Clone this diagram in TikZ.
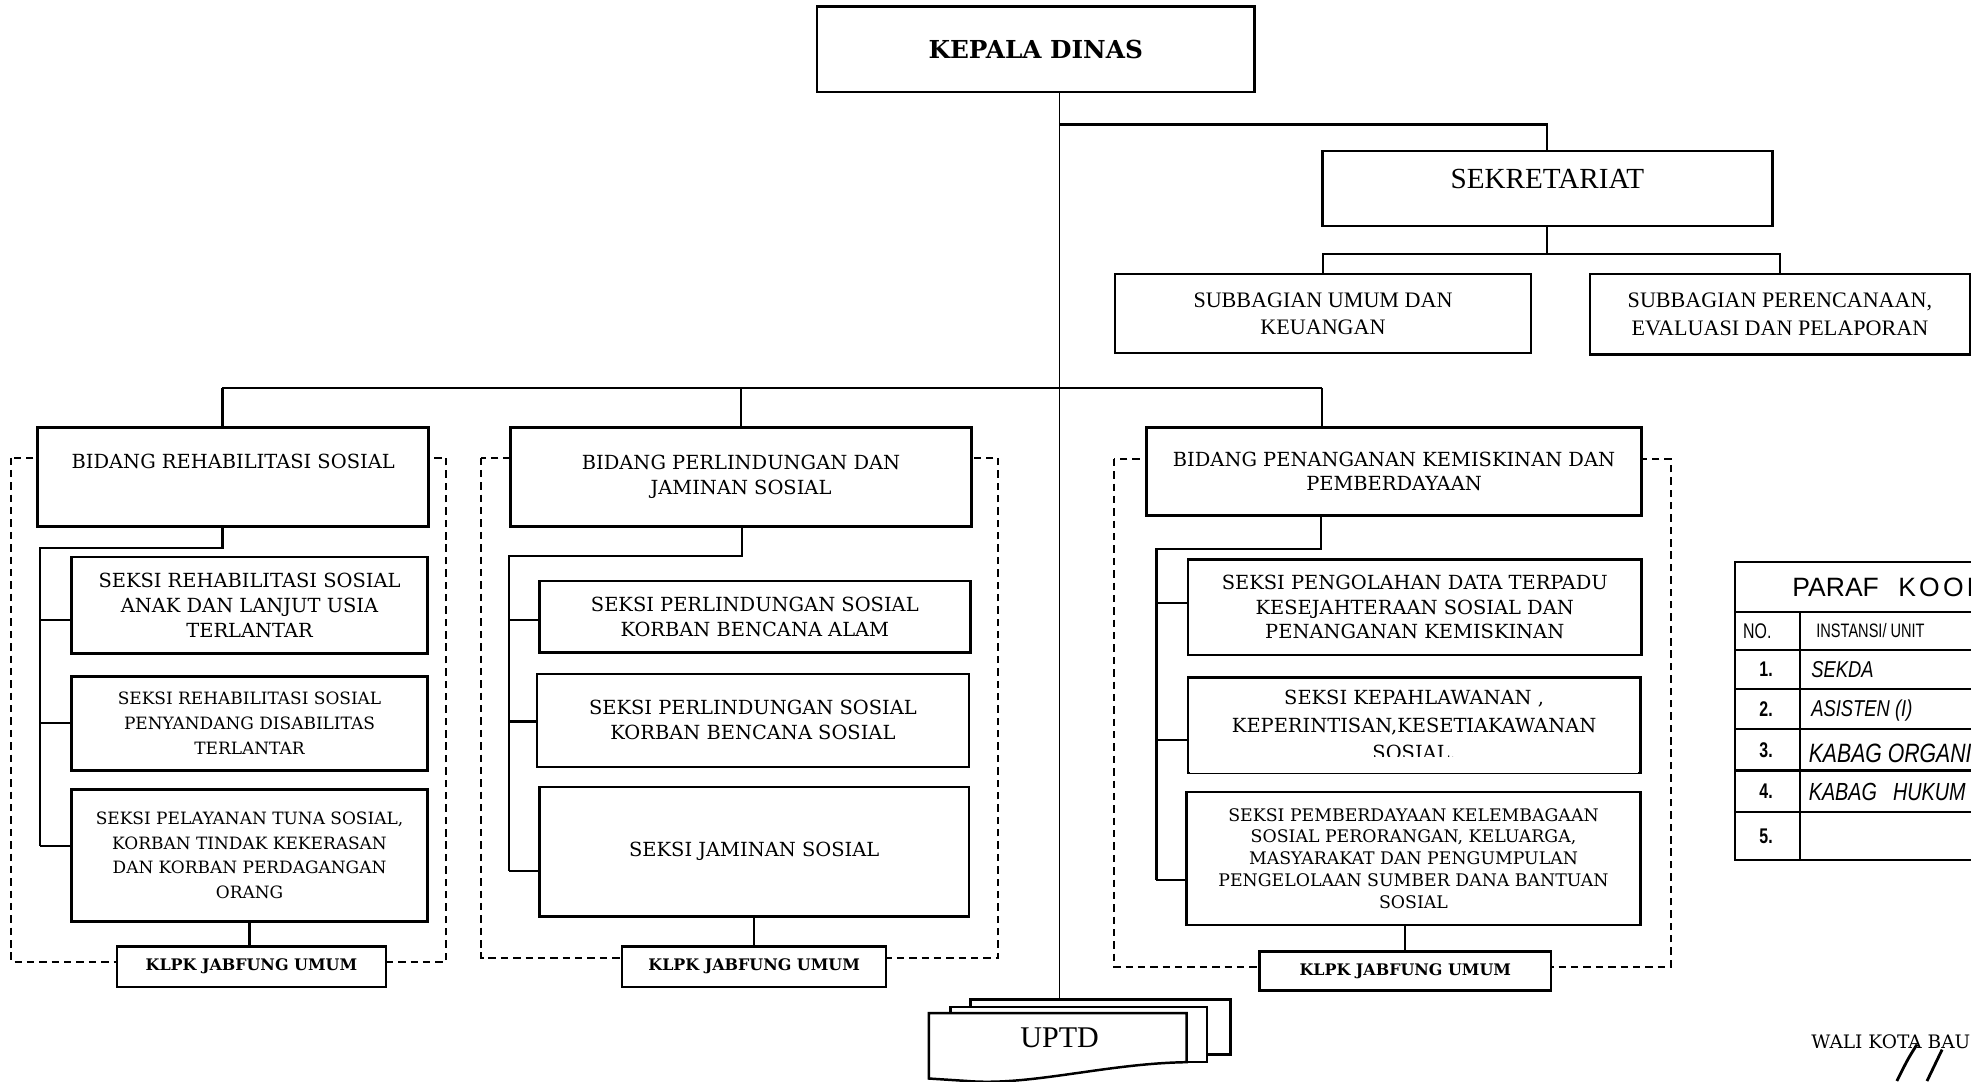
\documentclass[tikz,border=0pt]{standalone}
\usepackage{fontspec}
\setmainfont{DejaVu Serif}
\newfontfamily\timesfont{Liberation Serif}
\newfontfamily\headfont{Liberation Sans}
\newfontfamily\narrowfont[FakeStretch=0.75]{Liberation Sans}
\newfontfamily\handfont[FakeStretch=0.8]{Liberation Sans}
\usetikzlibrary{calc}

\begin{document}
\begin{tikzpicture}[x=0.025cm, y=-0.025cm,
        box/.style={draw, line width=1.4pt, fill=white, align=center, inner sep=1pt},
        wh/.style 2 args={minimum width=#1*0.025cm, minimum height=#2*0.025cm},
        link/.style={line width=1.2pt},
        trunk/.style={line width=0.8pt},
        frame/.style={line width=1.1pt, dash pattern=on 4.2pt off 2.8pt},
        txt/.style={font=\fontsize{11}{14}\selectfont},
        small/.style={font=\fontsize{9.6}{14}\selectfont},
        tight/.style={font=\fontsize{9.8}{12.4}\selectfont},
        klpk/.style={font=\fontsize{9}{11}\selectfont\bfseries},
        sub/.style={font=\timesfont\fontsize{12.5}{15.6}\selectfont},
        grid/.style={line width=1.2pt},
        hand/.style={font=\handfont\itshape\fontsize{13}{14}\selectfont, anchor=west}]
    \useasboundingbox (0,0) rectangle (1568,860);
    \clip (0,0) rectangle (1568,860);

    % Top: head of office and secretariat
    \node[box, wh={348}{68}, font=\fontsize{14}{16}\selectfont\bfseries] (kd) at (824,39) {KEPALA DINAS};
    \node[box, wh={358}{60}, font=\timesfont\fontsize{16.5}{18}\selectfont,
          text height=11pt, text depth=11pt] (sek) at (1231,150) {SEKRETARIAT};
    \node[box, sub, wh={331}{63}] (sub1) at (1052.5,249.5) {SUBBAGIAN UMUM DAN\\KEUANGAN};
    \node[box, sub, wh={302}{64}] (sub2) at (1416,250) {SUBBAGIAN PERENCANAAN,\\EVALUASI DAN PELAPORAN};

    % Dashed frames round each bidang
    \draw[frame] (9,364) rectangle (355,765);
    \draw[frame] (383,364) rectangle (794,762);
    \draw[frame] (886,365) rectangle (1329,769);

    % Bidang boxes
    \node[box, txt, wh={311}{79}] (br) at (185.5,379.5) {BIDANG REHABILITASI SOSIAL\\\strut};
    \node[box, txt, wh={367}{79}] (bp) at (589.5,379.5) {BIDANG PERLINDUNGAN DAN\\JAMINAN SOSIAL};
    \node[box, txt, wh={394}{70}] (bk) at (1109,375) {BIDANG PENANGANAN KEMISKINAN DAN\\PEMBERDAYAAN};

    % Column 1: rehabilitasi sosial
    \node[box, txt, wh={283}{77}] (r1) at (198.5,481.5) {SEKSI REHABILITASI SOSIAL\\ANAK DAN LANJUT USIA\\TERLANTAR};
    \node[box, small, wh={283}{75}] (r2) at (198.5,575.5) {SEKSI REHABILITASI SOSIAL\\PENYANDANG DISABILITAS\\TERLANTAR};
    \node[box, small, wh={283}{105}] (r3) at (198.5,680.5) {SEKSI PELAYANAN TUNA SOSIAL,\\KORBAN TINDAK KEKERASAN\\DAN KORBAN PERDAGANGAN\\ORANG};
    \node[box, klpk, wh={214}{32}] (k1) at (200,769) {KLPK JABFUNG UMUM};

    % Column 2: perlindungan dan jaminan sosial
    \node[box, txt, wh={343}{57}] (p1) at (600.5,490.5) {SEKSI PERLINDUNGAN SOSIAL\\KORBAN BENCANA ALAM};
    \node[box, txt, wh={344}{74}] (p2) at (599,573) {SEKSI PERLINDUNGAN SOSIAL\\KORBAN BENCANA SOSIAL};
    \node[box, txt, wh={342}{103}] (p3) at (600,677.5) {SEKSI JAMINAN SOSIAL};
    \node[box, klpk, wh={210}{32}] (k2) at (600,769) {KLPK JABFUNG UMUM};

    % Column 3: penanganan kemiskinan
    \node[box, txt, wh={361}{76}] (m1) at (1125.5,483) {SEKSI PENGOLAHAN DATA TERPADU\\KESEJAHTERAAN SOSIAL DAN\\PENANGANAN KEMISKINAN};
    \node[box, font=\fontsize{11}{15.6}\selectfont, wh={360}{76}] (m2) at (1125,577) {SEKSI KEPAHLAWANAN ,\\KEPERINTISAN,KESETIAKAWANAN\\SOSIAL.};
    % last line of m2 is cut off in the original
    \fill[white] ([xshift=2pt, yshift=1pt]m2.south west) rectangle ([xshift=-2pt, yshift=0.35cm]m2.south east);
    \node[box, tight, wh={361}{106}] (m3) at (1124.5,683) {SEKSI PEMBERDAYAAN KELEMBAGAAN\\SOSIAL PERORANGAN, KELUARGA,\\MASYARAKAT DAN PENGUMPULAN\\PENGELOLAAN SUMBER DANA BANTUAN\\SOSIAL};
    \node[box, klpk, wh={232}{31}] (k3) at (1118,772.5) {KLPK JABFUNG UMUM};

    % UPTD stack
    \node[box, wh={207}{44}] (up3) at (875.5,817) {};
    \node[box, wh={204}{44}] (up2) at (858,823) {};
    \draw[line width=1.4pt, fill=white] (739,806) -- (944,806) -- (944,845)
        .. controls (880,846) and (820,864) .. (770,860) -- (739,858) -- cycle;
    \node[font=\timesfont\fontsize{17}{20}\selectfont] (up) at (843,826) {UPTD};

    % Trunk and secretariat branch
    \coordinate (tk) at (843,99);
    \draw[trunk] (kd.south -| tk) -- (up3.north -| tk);
    \draw[link] (tk) -| (sek.north);
    \coordinate (sb) at (1231,202);
    \draw[link] (sek.south) -- (sb);
    \draw[link] (sub1.north) |- (sb) -| (sub2.north);

    % Bar to the three bidang
    \coordinate (d1) at (177,309);
    \coordinate (d3) at (1052,309);
    \draw[link] (d1) -- (d3);
    \draw[link] (d1) -- (d1 |- br.north);
    \draw[link] (bp.north |- d1) -- (bp.north);
    \draw[link] (d3) -- (d3 |- bk.north);

    % Spines inside each frame
    \coordinate (r0) at (177,436);
    \coordinate (rs) at (32,436);
    \foreach \b/\s in {r1/-11.5, r2/0, r3/7.5} {
        \coordinate (\b-j) at ([yshift=\s*0.025cm]\b.west);
        \draw[link] (rs |- \b-j) -- (\b-j);
    }
    \draw[link] (r0 |- br.south) -- (r0) -- (rs) -- (rs |- r3-j);
    \draw[link] (r3.south) -- (k1.north -| r3.south);

    \coordinate (p0) at (590,442);
    \coordinate (ps) at (405,442);
    \foreach \b/\s in {p1/-2.5, p2/-1, p3/-15.5} {
        \coordinate (\b-j) at ([yshift=\s*0.025cm]\b.west);
        \draw[link] (ps |- \b-j) -- (\b-j);
    }
    \draw[link] (p0 |- bp.south) -- (p0) -- (ps) -- (ps |- p3-j);
    \draw[link] (p3.south) -- (k2.north -| p3.south);

    \coordinate (m0) at (1051,437);
    \coordinate (ms) at (920,437);
    \foreach \b/\s in {m1/3, m2/-12, m3/-17} {
        \coordinate (\b-j) at ([yshift=\s*0.025cm]\b.west);
        \draw[link] (ms |- \b-j) -- (\b-j);
    }
    \draw[link] (m0 |- bk.south) -- (m0) -- (ms) -- (ms |- m3-j);
    \draw[link] (k3.north) -- (k3.north |- m3.south);

    % Paraf koordinasi table (cut by the page edge)
    \draw[grid] (1380,447) rectangle (1600,684);
    \foreach \y in {487,517,548,580,613,646}
        \draw[grid] (1380,\y) -- (1600,\y);
    \draw[grid] (1432,487) -- (1432,684);
    \node[font=\headfont\fontsize{15}{18}\selectfont, anchor=west] (paraf) at (1421,467)
        {PARAF\hspace{11pt}{\addfontfeature{LetterSpace=12}KOORDINASI}};
    \node[font=\narrowfont\fontsize{12}{14}\selectfont] (no) at (1398,502) {NO.};
    \node[font=\narrowfont\fontsize{11}{13}\selectfont, anchor=west] (inst) at (1440,502) {INSTANSI/ UNIT};
    \foreach \n/\y in {1/532.5, 2/564, 3/596.5, 4/629.5, 5/665}
        \node[font=\narrowfont\bfseries\fontsize{12}{14}\selectfont] (n\n) at (1405,\y) {\n.};
    \node[hand] (h1) at (1436,533) {SEKDA};
    \node[hand] (h2) at (1436,565) {ASISTEN (I)};
    \node[hand, font=\handfont\itshape\fontsize{15}{16}\selectfont] (h3) at (1434,599) {KABAG ORGANISASI};
    \node[hand, font=\handfont\itshape\fontsize{14}{16}\selectfont] (h4) at (1434,630) {KABAG \hspace{6pt}HUKUM};

    % Signature block
    \node[font=\fontsize{10.5}{12}\selectfont, anchor=west] (wali) at (1436,829) {WALI KOTA BAUBAU};
    \draw[line width=1.6pt] (1525,831) .. controls (1518,842) .. (1509,860);
    \draw[line width=1.6pt] (1545,835) -- (1533,860);
\end{tikzpicture}
\end{document}
